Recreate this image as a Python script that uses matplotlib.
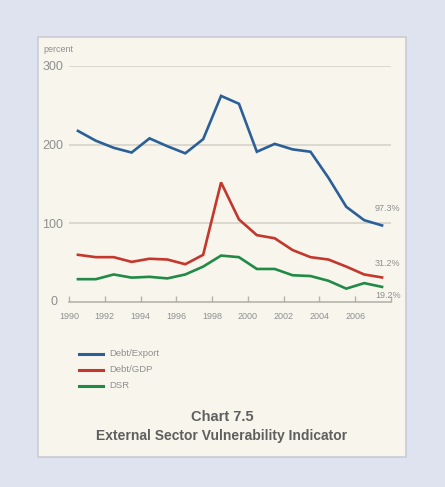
import matplotlib
matplotlib.use("Agg")
import matplotlib.pyplot as plt
from matplotlib.patches import Rectangle
from matplotlib.lines import Line2D

years = list(range(1990, 2008))
debt_export = [217.5, 205, 196, 190, 208, 198, 189, 207, 262, 252, 191, 201, 194, 191, 158, 121, 104, 97.3]
debt_gdp = [60, 57, 57, 51, 55, 54, 48, 60, 152, 105, 85, 81, 66, 57, 54, 45, 35, 31.2]
dsr = [29, 29, 35, 31, 32, 30, 35, 45, 59, 57, 42, 42, 34, 33, 27, 17, 24, 19.2]
series_names = ["Debt/Export", "Debt/GDP", "DSR"]
end_labels = ["97.3%", "31.2%", "19.2%"]
xticks = list(range(1990, 2007, 2))
yticks = [0, 100, 200, 300]

plt.rcParams["font.family"] = ["Liberation Sans", "DejaVu Sans"]
colors = ["#2b5f98", "#c4372d", "#218a47"]
grey = "#8f8f8f"
W, H = 445, 487

fig = plt.figure(figsize=(W / 100, H / 100), dpi=100)
fig.patch.set_facecolor("#dfe3ef")
fig.patches.append(Rectangle((38 / W, 1 - 457 / H), (406 - 38) / W, (457 - 37) / H,
                             transform=fig.transFigure, facecolor="#f7f5ec",
                             edgecolor="#c9ccd6", linewidth=1.2, zorder=-5))

ax = fig.add_axes([69 / W, 1 - 302 / H, (391 - 69) / W, (302 - 66) / H])
ax.set_zorder(2)
ax.set_facecolor("none")
x = [y + 0.5 for y in years]
for vals, c in zip([debt_export, debt_gdp, dsr], colors):
    ax.plot(x, vals, color=c, lw=1.9, solid_joinstyle="miter", zorder=3, clip_on=False)

ax.set_xlim(1990, 2008)
ax.set_ylim(0, 300)
ax.set_yticks(yticks[1:])
ax.set_yticklabels([str(v) for v in yticks[1:]], fontsize=9, color=grey)
ax.tick_params(axis="y", length=0, pad=4)
ax.grid(axis="y", color="#d2d0c7", lw=1.1)
ax.set_axisbelow(True)
ax.set_xticks(xticks + [2008])
ax.set_xticklabels([str(v) for v in xticks] + [""], fontsize=6.5, color=grey)
ax.tick_params(axis="x", direction="in", length=4, color="#b5b3ab", width=1, pad=7)
for s in ["top", "right", "left"]:
    ax.spines[s].set_visible(False)
ax.spines["bottom"].set_color("#b5b3ab")
ax.spines["bottom"].set_linewidth(1.2)
ax.text(-0.035, 0, "0", transform=ax.get_yaxis_transform(), ha="right", va="center",
        fontsize=9, color=grey)

for vals, lab, dy in zip([debt_export, debt_gdp, dsr], end_labels, [12, 10, -6]):
    ax.annotate(lab, (x[-1], vals[-1]), xytext=(-5, dy), textcoords="offset points",
                ha="left", va="center", fontsize=6.5, color=grey)

fig.text(43 / W, 1 - 49 / H, "percent", fontsize=6.5, color=grey, ha="left", va="center")

for i, (name, c) in enumerate(zip(series_names, colors)):
    yy = 1 - (354 + 16 * i) / H
    fig.lines.append(Line2D([79 / W, 103 / W], [yy, yy], transform=fig.transFigure,
                            color=c, lw=2.2))
    fig.text(109 / W, yy, name, fontsize=6.8, color=grey, ha="left", va="center")

fig.text(222 / W, 1 - 417 / H, "Chart 7.5", fontsize=10.5, fontweight="bold",
         color="#5f5f5f", ha="center", va="center")
fig.text(222 / W, 1 - 436 / H, "External Sector Vulnerability Indicator", fontsize=10,
         fontweight="bold", color="#5f5f5f", ha="center", va="center")

fig.savefig("out.png", dpi=100, facecolor=fig.get_facecolor())
